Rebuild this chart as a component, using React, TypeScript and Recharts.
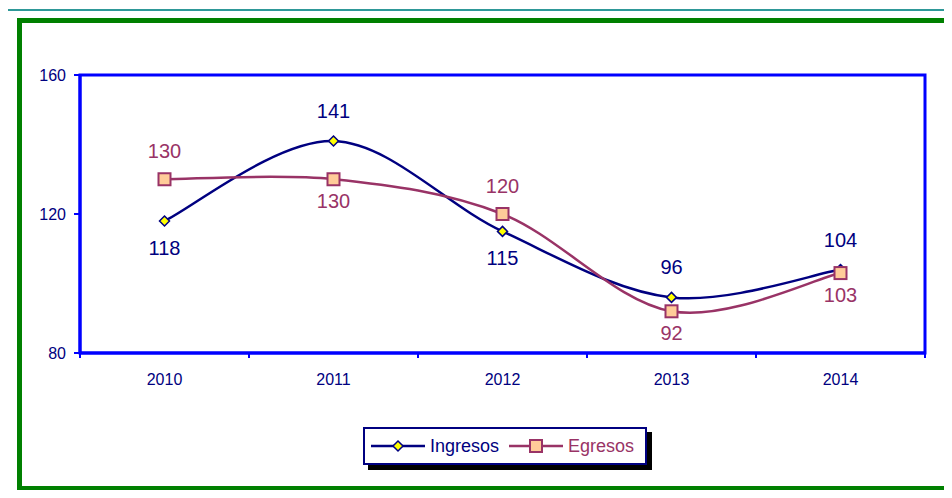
import React from 'react';
import { LineChart, Line, XAxis, YAxis, Legend, LabelList, ReferenceArea } from 'recharts';

const years = ['2010', '2011', '2012', '2013', '2014'];
const ingresos = [118, 141, 115, 96, 104];
const egresos = [130, 130, 120, 92, 103];
const yTicks = [80, 120, 160];
const xTicks = [0, 0.5, 1, 1.5, 2, 2.5, 3, 3.5, 4, 4.5, 5];

const NAVY = '#000080';
const PLUM = '#993366';
const BLUE = '#0000ff';
const TEAL = '#2e9898';
const FONT = '"Liberation Sans", Arial, sans-serif';

const data = years.map((year, i) => ({
  pos: i + 0.5,
  year,
  ingresos: ingresos[i],
  egresos: egresos[i],
}));

// excel-like smoothed line (catmull-rom style bezier)
function excelCurve(context: any) {
  let pts: number[][] = [];
  return {
    areaStart() {},
    areaEnd() {},
    lineStart() {
      pts = [];
    },
    point(x: number, y: number) {
      pts.push([+x, +y]);
    },
    lineEnd() {
      if (!pts.length) return;
      context.moveTo(pts[0][0], pts[0][1]);
      for (let i = 0; i < pts.length - 1; i++) {
        const p0 = pts[i - 1] || pts[i];
        const p1 = pts[i];
        const p2 = pts[i + 1];
        const p3 = pts[i + 2] || p2;
        context.bezierCurveTo(
          p1[0] + (p2[0] - p0[0]) / 6,
          p1[1] + (p2[1] - p0[1]) / 6,
          p2[0] - (p3[0] - p1[0]) / 6,
          p2[1] - (p3[1] - p1[1]) / 6,
          p2[0],
          p2[1]
        );
      }
    },
  };
}

const Diamond = (props: any) => {
  const { cx, cy, index } = props;
  if (cx == null || cy == null) return null;
  const r = 5;
  return (
    <polygon
      key={`d-${index}`}
      points={`${cx},${cy - r} ${cx + r},${cy} ${cx},${cy + r} ${cx - r},${cy}`}
      fill="#ffff00"
      stroke={NAVY}
      strokeWidth={1.5}
    />
  );
};

const Square = (props: any) => {
  const { cx, cy, index } = props;
  if (cx == null || cy == null) return null;
  return (
    <rect
      key={`s-${index}`}
      x={cx - 6}
      y={cy - 6}
      width={12}
      height={12}
      fill="#ffcc99"
      stroke={PLUM}
      strokeWidth={2}
    />
  );
};

// label goes on the side away from the other series
const makeLabel = (own: number[], other: number[], color: string, up: number, down: number) => (props: any) => {
  const { x, y, value, index } = props;
  const above = own[index] > other[index];
  return (
    <text
      x={x}
      y={above ? y - up : y + down}
      textAnchor="middle"
      fontSize={20}
      fontFamily={FONT}
      fill={color}
    >
      {value}
    </text>
  );
};

const XTick = (props: any) => {
  const { x, y, payload } = props;
  const v = payload.value;
  if (Number.isInteger(v)) {
    return <line x1={x} x2={x} y1={y - 5} y2={y} stroke={BLUE} strokeWidth={2} />;
  }
  return (
    <text x={x} y={y + 27} textAnchor="middle" fontSize={16} fontFamily={FONT} fill={NAVY}>
      {years[Math.floor(v)]}
    </text>
  );
};

const LegendBox = () => (
  <div
    style={{
      width: 284,
      height: 38,
      boxSizing: 'border-box',
      border: `2px solid ${NAVY}`,
      background: '#fff',
      boxShadow: '5px 5px 0 #000',
      display: 'flex',
      alignItems: 'center',
      fontFamily: FONT,
      fontSize: 18,
    }}
  >
    <svg width={60} height={20} style={{ marginLeft: 5 }}>
      <line x1={1} x2={55} y1={10} y2={10} stroke={NAVY} strokeWidth={2.5} />
      <polygon points="28,5 33,10 28,15 23,10" fill="#ffff00" stroke={NAVY} strokeWidth={1.5} />
    </svg>
    <span style={{ color: NAVY }}>Ingresos</span>
    <svg width={60} height={20} style={{ marginLeft: 9 }}>
      <line x1={1} x2={55} y1={10} y2={10} stroke={PLUM} strokeWidth={2.5} />
      <rect x={22} y={4} width={12} height={12} fill="#ffcc99" stroke={PLUM} strokeWidth={2} />
    </svg>
    <span style={{ color: PLUM }}>Egresos</span>
  </div>
);

export default function App() {
  return (
    <div
      style={{
        position: 'relative',
        width: 952,
        height: 498,
        margin: -8,
        overflow: 'hidden',
        background: '#fff',
      }}
    >
      <div style={{ position: 'absolute', left: 6, top: 9, width: 946, height: 2, background: TEAL }} />
      <div style={{ position: 'absolute', left: 6, top: 9, width: 2, height: 489, background: TEAL }} />
      <div
        style={{
          position: 'absolute',
          left: 17,
          top: 18,
          width: 935,
          height: 473,
          boxSizing: 'border-box',
          border: '5px solid #008000',
          boxShadow: '5px 4px 0 #000',
          background: '#fff',
        }}
      />
      <div style={{ position: 'absolute', left: 0, top: 0 }}>
        <LineChart
          width={952}
          height={498}
          data={data}
          margin={{ top: 75, right: 27, bottom: 115, left: 20 }}
        >
          <ReferenceArea x1={0} x2={5} y1={80} y2={160} fill="none" stroke={BLUE} strokeWidth={3} />
          <XAxis
            dataKey="pos"
            type="number"
            domain={[0, 5]}
            ticks={xTicks}
            interval={0}
            height={30}
            tickSize={5}
            tickMargin={0}
            tickLine={false}
            axisLine={{ stroke: BLUE, strokeWidth: 3 }}
            tick={<XTick />}
          />
          <YAxis
            type="number"
            domain={[80, 160]}
            ticks={yTicks}
            width={60}
            tickSize={6}
            tickMargin={8}
            axisLine={{ stroke: BLUE, strokeWidth: 3 }}
            tickLine={{ stroke: BLUE, strokeWidth: 2 }}
            tick={{ fill: NAVY, fontSize: 16, fontFamily: FONT }}
          />
          <Legend
            layout="horizontal"
            verticalAlign="middle"
            align="center"
            wrapperStyle={{ left: 363, top: 427, width: 284, height: 38 }}
            content={<LegendBox />}
          />
          <Line
            dataKey="ingresos"
            name="Ingresos"
            type={excelCurve as any}
            stroke={NAVY}
            strokeWidth={2.5}
            dot={<Diamond />}
            activeDot={false}
            isAnimationActive={false}
          >
            <LabelList dataKey="ingresos" content={makeLabel(ingresos, egresos, NAVY, 23, 34)} />
          </Line>
          <Line
            dataKey="egresos"
            name="Egresos"
            type={excelCurve as any}
            stroke={PLUM}
            strokeWidth={2.5}
            dot={<Square />}
            activeDot={false}
            isAnimationActive={false}
          >
            <LabelList dataKey="egresos" content={makeLabel(egresos, ingresos, PLUM, 21, 29)} />
          </Line>
        </LineChart>
      </div>
    </div>
  );
}
